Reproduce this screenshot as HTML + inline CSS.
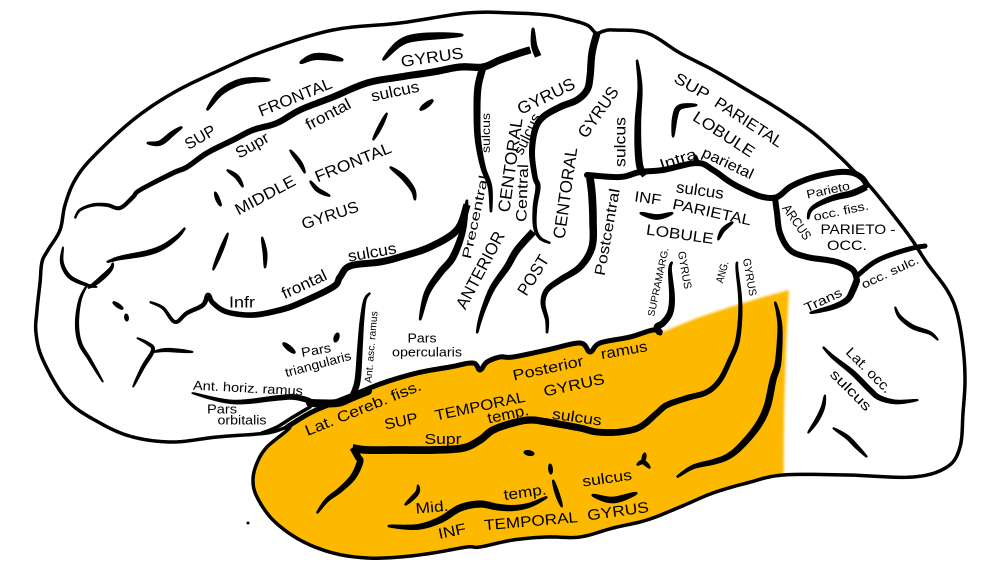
<!DOCTYPE html>
<html><head><meta charset="utf-8"><style>
html,body{margin:0;padding:0;background:#fff;}
svg{display:block;}
text{font-family:"Liberation Sans",Arial,sans-serif;fill:#000;text-anchor:middle;}
</style></head><body>
<svg id="brain" width="992" height="573" viewBox="0 0 992 573" xmlns="http://www.w3.org/2000/svg">
<defs>
<filter id="soft" x="-5%" y="-5%" width="110%" height="110%"><feGaussianBlur stdDeviation="1.2"/></filter>
<clipPath id="bclip">
<polygon class="sm" points="290,427 267,433 217,437 173,442 133,437 100,423 67,400 43,360 36,333 37,310 40,283 42,262 48,250 60,230 65,205 75,180 93,157 133,120 173,93 220,70 267,50 333,30 400,23 467,13 513,13 547,15 567,19 587,25 596,33 604,31 613,30 647,33 680,53 713,70 747,90 780,110 813,133 840,157 853,170 867,183 887,207 910,237 927,263 947,290 957,313 963,347 965,380 963,413 960,447 947,467 913,477 847,475 783,475 747,483 713,493 680,507 647,520 613,528 580,537 547,537 513,540 480,547 467,547 433,553 400,557 367,558 333,553 300,540 273,520 257,497 253,480 257,463 267,447"/>
</clipPath>
</defs>
<rect width="992" height="573" fill="#fff"/>
<!-- brain fill -->
<polygon class="sm" fill="#fff" points="290,427 267,433 217,437 173,442 133,437 100,423 67,400 43,360 36,333 37,310 40,283 42,262 48,250 60,230 65,205 75,180 93,157 133,120 173,93 220,70 267,50 333,30 400,23 467,13 513,13 547,15 567,19 587,25 596,33 604,31 613,30 647,33 680,53 713,70 747,90 780,110 813,133 840,157 853,170 867,183 887,207 910,237 927,263 947,290 957,313 963,347 965,380 963,413 960,447 947,467 913,477 847,475 783,475 747,483 713,493 680,507 647,520 613,528 580,537 547,537 513,540 480,547 467,547 433,553 400,557 367,558 333,553 300,540 273,520 257,497 253,480 257,463 267,447"/>
<!-- orange temporal lobe -->
<g clip-path="url(#bclip)">
<polygon id="orng" fill="#FDB900" filter="url(#soft)" points="287,427 310,413 333,403 353,395 383,383 417,373 450,367 473,363 480,370 487,362 500,357 513,357 547,350 580,343 590,352 600,343 630,337 653,330 660,333 697,318 730,307 763,297 789,290 786,347 784,413 783,600 230,600 230,445"/>
</g>

<g fill="none" stroke="#000" stroke-linecap="round" stroke-linejoin="round">
<!-- outline -->
<polygon class="sm" stroke-width="3.5" points="290,427 267,433 217,437 173,442 133,437 100,423 67,400 43,360 36,333 37,310 40,283 42,262 48,250 60,230 65,205 75,180 93,157 133,120 173,93 220,70 267,50 333,30 400,23 467,13 513,13 547,15 567,19 587,25 596,33 604,31 613,30 647,33 680,53 713,70 747,90 780,110 813,133 840,157 853,170 867,183 887,207 910,237 927,263 947,290 957,313 963,347 965,380 963,413 960,447 947,467 913,477 847,475 783,475 747,483 713,493 680,507 647,520 613,528 580,537 547,537 513,540 480,547 467,547 433,553 400,557 367,558 333,553 300,540 273,520 257,497 253,480 257,463 267,447"/>

<!-- superior frontal sulcus -->
<polyline class="tb" stroke-width="6.5" points="75,218 80,210 93,205 107,205 120,208 133,197 140,190 173,173 187,167 207,153 233,140 253,130 277,123 300,110 333,97 367,83 400,77 433,72 460,67 483,67 500,60 520,53 530,50"/>
<polyline class="tb" stroke-width="6" points="533,28 534,45 538,56"/>
<!-- upper precentral -->
<polyline class="te" stroke-width="6.5" points="483,67 478,87 477,113 478,140 483,167 490,187 491,212"/>
<!-- frontal short sulci -->
<polyline class="tp" stroke-width="5" points="147,143 160,143 173,133 182,127"/>
<polyline class="tp" stroke-width="6" points="207,110 220,93 237,83 253,80 270,80"/>
<polyline class="tp" stroke-width="6.5" points="300,63 313,57 327,57 343,60"/>
<polyline class="tp" stroke-width="7" points="383,60 400,43 420,37 463,35"/>
<polyline class="tp" stroke-width="5" points="420,110 433,100"/>
<polyline class="tp" stroke-width="4" points="373,140 380,127 387,113"/>
<polyline class="tp" stroke-width="4" points="290,150 300,163 305,173"/>
<polyline class="tp" stroke-width="4" points="310,181 318,190 330,196"/>
<polyline class="tp" stroke-width="4" points="227,170 237,177 243,187"/>
<polyline class="tp" stroke-width="4" points="215,192 218,200 221,206"/>
<polyline class="tp" stroke-width="5" points="390,167 403,177 413,190 415,200"/>
<polyline class="tp" stroke-width="4" points="213,270 220,253 228,233"/>
<polyline class="tp" stroke-width="4" points="262,237 265,253 265,268"/>
<polyline class="tp" stroke-width="3.5" points="63,247 62,263 70,277 87,285 97,287"/>
<polyline class="tp" stroke-width="3.5" points="87,285 80,300 77,323 80,343 90,360 103,382"/>
<polyline class="tp" stroke-width="5" points="107,262 120,258 147,253 163,247 177,237 185,228"/>
<polyline class="tp" stroke-width="4.5" points="113,263 110,270 97,282 88,288"/>
<!-- inferior frontal sulcus -->
<polyline class="tb" stroke-width="6.5" points="150,302 163,308 175,322 187,313 203,305 208,295 213,303 227,312 253,315 280,310 300,303 333,287 340,277 350,266 380,262 400,257 430,247 457,230 467,205"/>
<polyline class="tp" stroke-width="4" points="113,302 123,309"/>
<polyline class="tp" stroke-width="4" points="126,314 127,321"/>
<polyline class="tp" stroke-width="3.5" points="137,338 147,343 153,350 143,367 133,387"/>
<polyline class="tp" stroke-width="3.5" points="153,352 167,350 193,352"/>
<!-- lower precentral -->
<polyline class="tp" stroke-width="6.5" points="467,200 463,230 453,257 440,273 427,293 420,320"/>
<!-- central sulcus -->
<polyline class="te" stroke-width="6.5" points="597,33 592,53 590,77 587,90 577,100 560,107 543,117 535,130 532,153 535,177 538,187 535,207 535,227 540,238 550,243"/>
<polyline class="te" stroke-width="6.5" points="533,232 517,250 507,267 493,287 485,305 480,320 477,333"/>
<!-- postcentral upper -->
<polyline class="tb" stroke-width="6.5" points="637,60 640,87 638,120 638,147 640,167 645,175"/>
<!-- intraparietal -->
<polyline class="sm" stroke-width="6" points="587,175 620,177 640,172 663,170 697,163 713,170 730,182 747,191 763,197 777,197 790,187 805,180 822,175 840,172 853,173 862,178 867,185"/>
<polyline class="tb" stroke-width="5" points="695,155 697,164"/>
<!-- postcentral lower -->
<polyline class="te" stroke-width="7" points="590,178 592,195 593,220 592,247 580,267 560,280 547,290 543,303 547,320 547,333"/>
<polyline class="tp" stroke-width="5" points="673,137 675,117 680,107 697,105"/>
<polyline class="tp" stroke-width="5" points="640,213 657,217 673,213"/>
<polyline class="tp" stroke-width="4" points="718,240 723,230 733,222"/>
<!-- arcus / occipital -->
<polyline class="sm" stroke-width="6" points="775,198 777,213 780,233 790,250 807,257 827,260 840,263 853,270 857,280"/>
<polyline class="sm" stroke-width="5" points="857,276 873,263 890,255 913,248 925,246"/>
<polyline class="te" stroke-width="6" points="857,280 853,290 847,300 833,307 810,313"/>
<polyline class="tb" stroke-width="6" points="808,219 810,211 817,205 833,198 853,193 866,187"/>
<!-- supramarginal -->
<polyline class="te" stroke-width="6" points="660,333 657,327 663,323 670,313 672,297 670,270 672,262"/>
<!-- sylvian / orange top -->
<polyline class="sm" stroke-width="5" points="287,427 310,413 333,403 353,395 383,383 417,373 450,367 473,363 480,370 487,362 500,357 513,357 547,350 580,343 590,352 600,343 630,337 653,330 660,333"/>
<polyline class="tb" stroke-width="5" points="192,393 233,402 277,398 293,397 307,400 314,404"/>
<polyline class="sm" stroke-width="8" points="310,403 337,403 353,397 368,391"/>
<polyline class="sm" stroke-width="3.5" points="262,433 277,427 293,417 310,407"/>
<polyline class="tb" stroke-width="5.5" points="370,293 365,300 362,320 360,347 358,377 355,390 350,400"/>
<polyline class="tp" stroke-width="5" points="283,343 295,353"/>
<polyline class="tp" stroke-width="5" points="335,342 338,333"/>
<!-- superior temporal sulcus -->
<polyline class="te" stroke-width="7" points="353,448 367,450 400,450 433,450 463,448 480,440 493,430 513,423 530,420 547,422 580,428 597,432 620,432 640,427 657,413 667,405 687,398 707,392 720,380 730,360 737,343 740,320 740,297 737,270 737,262"/>
<polyline class="te" stroke-width="6" points="353,448 358,457 360,462 353,477 340,490 327,500 317,513"/>
<polyline class="tp" stroke-width="6.5" points="775,302 778,313 780,330 778,363 773,380 767,407 757,427 740,447 727,457 713,462 693,467 677,477"/>
<polyline class="tp" stroke-width="6.5" points="388,526 417,527 440,520 460,508 480,504 497,507 513,508 530,505 547,497"/>
<polyline class="tp" stroke-width="4" points="405,505 417,493 418,485"/>
<polyline class="tp" stroke-width="5" points="524,452 534,454"/>
<polyline class="tp" stroke-width="4" points="550,464 551,474"/>
<polyline class="tp" stroke-width="4" points="553,480 557,493 562,507"/>
<polyline class="tp" stroke-width="6" points="592,495 613,500 637,493"/>
<polyline class="tp" stroke-width="4" points="637,465 643,462 650,468"/>
<polyline class="tp" stroke-width="4" points="643,462 645,453"/>
<!-- occipital lobe -->
<polyline class="tp" stroke-width="4" points="895,307 900,317 913,327 930,333 938,340"/>
<polyline class="tp" stroke-width="5" points="823,347 833,357 853,373 870,390 880,398 897,402 918,400"/>
<polyline class="tp" stroke-width="4" points="825,395 823,407 817,420 808,433"/>
<polyline class="tp" stroke-width="4" points="833,428 847,437 857,447 867,457"/>
</g>
<circle cx="248" cy="523" r="1.5" fill="#000"/>

<!-- labels -->
<g>
<text font-size="16" textLength="63" lengthAdjust="spacingAndGlyphs" transform="translate(432,57) rotate(-8)" y="5.6">GYRUS</text>
<text font-size="16" textLength="78" lengthAdjust="spacingAndGlyphs" transform="translate(295,97) rotate(-22)" y="5.6">FRONTAL</text>
<text font-size="16" textLength="33" lengthAdjust="spacingAndGlyphs" transform="translate(200,137) rotate(-30)" y="5.6">SUP</text>
<text font-size="16" textLength="49" lengthAdjust="spacingAndGlyphs" transform="translate(395,91) rotate(-12)" y="5.6">sulcus</text>
<text font-size="16" textLength="49" lengthAdjust="spacingAndGlyphs" transform="translate(328,114) rotate(-28)" y="5.6">frontal</text>
<text font-size="16" textLength="36" lengthAdjust="spacingAndGlyphs" transform="translate(252,145) rotate(-30)" y="5.6">Supr</text>
<text font-size="16" textLength="81" lengthAdjust="spacingAndGlyphs" transform="translate(353,162) rotate(-22)" y="5.6">FRONTAL</text>
<text font-size="16" textLength="66" lengthAdjust="spacingAndGlyphs" transform="translate(265,195) rotate(-28)" y="5.6">MIDDLE</text>
<text font-size="16" textLength="59" lengthAdjust="spacingAndGlyphs" transform="translate(330,215) rotate(-18)" y="5.6">GYRUS</text>
<text font-size="16" textLength="49" lengthAdjust="spacingAndGlyphs" transform="translate(372,252) rotate(-10)" y="5.6">sulcus</text>
<text font-size="16" textLength="48" lengthAdjust="spacingAndGlyphs" transform="translate(304,284) rotate(-25)" y="5.6">frontal</text>
<text font-size="16" textLength="26" lengthAdjust="spacingAndGlyphs" transform="translate(242,302)" y="5.6">Infr</text>
<text font-size="12" textLength="40" lengthAdjust="spacingAndGlyphs" transform="translate(486,133) rotate(-90)" y="4.2">sulcus</text>
<text font-size="13" textLength="85" lengthAdjust="spacingAndGlyphs" transform="translate(475,217) rotate(-78)" y="4.5">Precentral</text>
<text font-size="17" textLength="85" lengthAdjust="spacingAndGlyphs" transform="translate(480,270) rotate(-62)" y="6">ANTERIOR</text>
<text font-size="17" textLength="95" lengthAdjust="spacingAndGlyphs" transform="translate(510,165) rotate(-82)" y="6">CENTORAL</text>
<text font-size="17" textLength="62" lengthAdjust="spacingAndGlyphs" transform="translate(546,96) rotate(-26)" y="6">GYRUS</text>
<text font-size="15" textLength="58" lengthAdjust="spacingAndGlyphs" transform="translate(522,193) rotate(-88)" y="5.2">Central</text>
<text font-size="15" textLength="44" lengthAdjust="spacingAndGlyphs" transform="translate(527,134) rotate(-64)" y="5.2">sulcus</text>
<text font-size="17" textLength="44" lengthAdjust="spacingAndGlyphs" transform="translate(533,275) rotate(-58)" y="6">POST</text>
<text font-size="17" textLength="92" lengthAdjust="spacingAndGlyphs" transform="translate(565,193) rotate(-82)" y="6">CENTORAL</text>
<text font-size="17" textLength="58" lengthAdjust="spacingAndGlyphs" transform="translate(598,112) rotate(-55)" y="6">GYRUS</text>
<text font-size="16" textLength="50" lengthAdjust="spacingAndGlyphs" transform="translate(620,142) rotate(-90)" y="5.6">sulcus</text>
<text font-size="15" textLength="88" lengthAdjust="spacingAndGlyphs" transform="translate(607,232) rotate(-80)" y="5.2">Postcentral</text>
<text font-size="16" textLength="38" lengthAdjust="spacingAndGlyphs" transform="translate(692,86) rotate(30)" y="5.6">SUP</text>
<text font-size="16" textLength="78" lengthAdjust="spacingAndGlyphs" transform="translate(749,122) rotate(33)" y="5.6">PARIETAL</text>
<text font-size="16" textLength="70" lengthAdjust="spacingAndGlyphs" transform="translate(724,134) rotate(33)" y="5.6">LOBULE</text>
<text font-size="15" textLength="38" lengthAdjust="spacingAndGlyphs" transform="translate(678,159) rotate(-18)" y="5.2">Intra</text>
<text font-size="15" textLength="55" lengthAdjust="spacingAndGlyphs" transform="translate(728,163) rotate(25)" y="5.2">parietal</text>
<text font-size="16" textLength="48" lengthAdjust="spacingAndGlyphs" transform="translate(700,190) rotate(8)" y="5.6">sulcus</text>
<text font-size="15" textLength="27" lengthAdjust="spacingAndGlyphs" transform="translate(648,198) rotate(8)" y="5.2">INF</text>
<text font-size="15" textLength="80" lengthAdjust="spacingAndGlyphs" transform="translate(712,212) rotate(12)" y="5.2">PARIETAL</text>
<text font-size="15" textLength="68" lengthAdjust="spacingAndGlyphs" transform="translate(680,234) rotate(8)" y="5.2">LOBULE</text>
<text font-size="12" textLength="44" lengthAdjust="spacingAndGlyphs" transform="translate(828,190) rotate(-12)" y="4.2">Parieto</text>
<text font-size="12" textLength="56" lengthAdjust="spacingAndGlyphs" transform="translate(841,211) rotate(-12)" y="4.2">occ. fiss.</text>
<text font-size="13" textLength="40" lengthAdjust="spacingAndGlyphs" transform="translate(797,222) rotate(55)" y="4.5">ARCUS</text>
<text font-size="14" textLength="75" lengthAdjust="spacingAndGlyphs" transform="translate(858,229)" y="4.9">PARIETO -</text>
<text font-size="14" textLength="40" lengthAdjust="spacingAndGlyphs" transform="translate(847,245)" y="4.9">OCC.</text>
<text font-size="12" textLength="62" lengthAdjust="spacingAndGlyphs" transform="translate(890,272) rotate(-25)" y="4.2">occ. sulc.</text>
<text font-size="13" textLength="40" lengthAdjust="spacingAndGlyphs" transform="translate(823,300) rotate(-25)" y="4.5">Trans</text>
<text font-size="10" textLength="70" lengthAdjust="spacingAndGlyphs" transform="translate(658,282) rotate(-78)" y="3.5">SUPRAMARG.</text>
<text font-size="11" textLength="38" lengthAdjust="spacingAndGlyphs" transform="translate(685,270) rotate(80)" y="3.9">GYRUS</text>
<text font-size="11" textLength="22" lengthAdjust="spacingAndGlyphs" transform="translate(722,272) rotate(-75)" y="3.9">ANG.</text>
<text font-size="11" textLength="38" lengthAdjust="spacingAndGlyphs" transform="translate(750,277) rotate(80)" y="3.9">GYRUS</text>
<text font-size="13" textLength="29" lengthAdjust="spacingAndGlyphs" transform="translate(422,338)" y="4.5">Pars</text>
<text font-size="13" textLength="70" lengthAdjust="spacingAndGlyphs" transform="translate(427,352)" y="4.5">opercularis</text>
<text font-size="13" textLength="30" lengthAdjust="spacingAndGlyphs" transform="translate(316,350) rotate(-10)" y="4.5">Pars</text>
<text font-size="13" textLength="68" lengthAdjust="spacingAndGlyphs" transform="translate(318,364) rotate(-15)" y="4.5">triangularis</text>
<text font-size="10" textLength="72" lengthAdjust="spacingAndGlyphs" transform="translate(371,347) rotate(-85)" y="3.5">Ant. asc. ramus</text>
<text font-size="13" textLength="110" lengthAdjust="spacingAndGlyphs" transform="translate(248,388) rotate(3)" y="4.5">Ant. horiz. ramus</text>
<text font-size="13" textLength="30" lengthAdjust="spacingAndGlyphs" transform="translate(222,409)" y="4.5">Pars</text>
<text font-size="13" textLength="49" lengthAdjust="spacingAndGlyphs" transform="translate(242,420)" y="4.5">orbitalis</text>
<text font-size="15" textLength="124" lengthAdjust="spacingAndGlyphs" transform="translate(363,408) rotate(-22)" y="5.2">Lat. Cereb. fiss.</text>
<text font-size="15" textLength="34" lengthAdjust="spacingAndGlyphs" transform="translate(401,421) rotate(-12)" y="5.2">SUP</text>
<text font-size="15" textLength="92" lengthAdjust="spacingAndGlyphs" transform="translate(480,406) rotate(-12)" y="5.2">TEMPORAL</text>
<text font-size="15" textLength="62" lengthAdjust="spacingAndGlyphs" transform="translate(574,385) rotate(-12)" y="5.2">GYRUS</text>
<text font-size="15" textLength="72" lengthAdjust="spacingAndGlyphs" transform="translate(548,368) rotate(-12)" y="5.2">Posterior</text>
<text font-size="15" textLength="47" lengthAdjust="spacingAndGlyphs" transform="translate(624,350) rotate(-10)" y="5.2">ramus</text>
<text font-size="15" textLength="42" lengthAdjust="spacingAndGlyphs" transform="translate(508,414) rotate(-12)" y="5.2">temp.</text>
<text font-size="15" textLength="50" lengthAdjust="spacingAndGlyphs" transform="translate(577,417) rotate(8)" y="5.2">sulcus</text>
<text font-size="15" textLength="37" lengthAdjust="spacingAndGlyphs" transform="translate(443,439)" y="5.2">Supr</text>
<text font-size="15" textLength="33" lengthAdjust="spacingAndGlyphs" transform="translate(432,507) rotate(-5)" y="5.2">Mid.</text>
<text font-size="15" textLength="43" lengthAdjust="spacingAndGlyphs" transform="translate(525,492) rotate(-8)" y="5.2">temp.</text>
<text font-size="15" textLength="50" lengthAdjust="spacingAndGlyphs" transform="translate(607,478) rotate(-8)" y="5.2">sulcus</text>
<text font-size="15" textLength="28" lengthAdjust="spacingAndGlyphs" transform="translate(452,531) rotate(-12)" y="5.2">INF</text>
<text font-size="15" textLength="94" lengthAdjust="spacingAndGlyphs" transform="translate(531,521) rotate(-5)" y="5.2">TEMPORAL</text>
<text font-size="15" textLength="62" lengthAdjust="spacingAndGlyphs" transform="translate(618,511) rotate(-8)" y="5.2">GYRUS</text>
<text font-size="14" textLength="58" lengthAdjust="spacingAndGlyphs" transform="translate(869,370) rotate(45)" y="4.9">Lat. occ.</text>
<text font-size="14" textLength="52" lengthAdjust="spacingAndGlyphs" transform="translate(851,390) rotate(45)" y="4.9">sulcus</text>
</g>
</svg>
<script>
(function(){
var NS='http://www.w3.org/2000/svg';
function pts(el){return el.getAttribute('points').trim().split(/\s+/).map(function(p){return p.split(',').map(Number);});}
function cr(P,closed,n){
  var out=[],L=P.length;
  function g(i){ if(closed){return P[((i%L)+L)%L];} return P[Math.max(0,Math.min(L-1,i))]; }
  var segs=closed?L:L-1;
  for(var i=0;i<segs;i++){
    var p0=g(i-1),p1=g(i),p2=g(i+1),p3=g(i+2);
    for(var k=0;k<n;k++){
      var t=k/n,t2=t*t,t3=t2*t,q=[0,0];
      for(var c=0;c<2;c++){
        q[c]=0.5*((2*p1[c])+(-p0[c]+p2[c])*t+(2*p0[c]-5*p1[c]+4*p2[c]-p3[c])*t2+(-p0[c]+3*p1[c]-3*p2[c]+p3[c])*t3);
      }
      out.push(q);
    }
  }
  if(!closed) out.push(P[L-1]);
  return out;
}
function d(D,closed){return 'M'+D.map(function(p){return p[0].toFixed(2)+','+p[1].toFixed(2);}).join('L')+(closed?'Z':'');}
function copyAttrs(src,dst){for(var i=0;i<src.attributes.length;i++){var a=src.attributes[i];if(a.name!=='points'&&a.name!=='class')dst.setAttribute(a.name,a.value);}}
/* orange: smooth sylvian edge, keep corners sharp */
var o=document.getElementById('orng');
if(o){
  var OP=pts(o);
  var top=cr(OP.slice(0,19),false,10);
  var rest=OP.slice(19);
  var op=document.createElementNS(NS,'path');
  copyAttrs(o,op);
  op.setAttribute('d',d(top.concat(rest),true));
  o.parentNode.replaceChild(op,o);
}
var sm=document.querySelectorAll('#brain .sm');
for(var i=0;i<sm.length;i++){
  var el=sm[i],closed=el.tagName.toLowerCase()==='polygon';
  var p=document.createElementNS(NS,'path');
  copyAttrs(el,p);
  p.setAttribute('d',d(cr(pts(el),closed,10),closed));
  el.parentNode.replaceChild(p,el);
}
var tp=document.querySelectorAll('#brain .tp, #brain .tb, #brain .te');
for(var j=0;j<tp.length;j++){
  var e=tp[j],cls=e.getAttribute('class');
  var W=parseFloat(e.getAttribute('stroke-width'))||4;
  var D=cr(pts(e),false,10),N=D.length;
  var len=[0];
  for(var m=1;m<N;m++){len.push(len[m-1]+Math.hypot(D[m][0]-D[m-1][0],D[m][1]-D[m-1][1]));}
  var T=len[N-1]||1,Lp=[],Rp=[];
  for(var m2=0;m2<N;m2++){
    var a=D[Math.max(0,m2-1)],b=D[Math.min(N-1,m2+1)];
    var tx=b[0]-a[0],ty=b[1]-a[1],l=Math.hypot(tx,ty)||1;
    tx/=l;ty/=l;
    var nx=-ty,ny=tx,s=len[m2]/T,f;
    if(cls==='tp'){f=Math.pow(Math.sin(Math.PI*s),0.55);}
    else if(cls==='tb'){f=Math.pow(Math.sin(Math.PI*0.5*s),0.55);}
    else {f=Math.pow(Math.sin(Math.PI*(0.5+0.5*s)),0.55);}
    var w=W/2*(0.22+0.78*f);
    Lp.push([D[m2][0]+nx*w,D[m2][1]+ny*w]);
    Rp.push([D[m2][0]-nx*w,D[m2][1]-ny*w]);
  }
  var poly=Lp.concat(Rp.reverse());
  var path=document.createElementNS(NS,'path');
  path.setAttribute('d',d(poly,true));
  path.setAttribute('fill','#000');
  path.setAttribute('stroke','#000');
  path.setAttribute('stroke-width','0.8');
  path.setAttribute('stroke-linejoin','round');
  e.parentNode.replaceChild(path,e);
}
})();
</script>
</body></html>
